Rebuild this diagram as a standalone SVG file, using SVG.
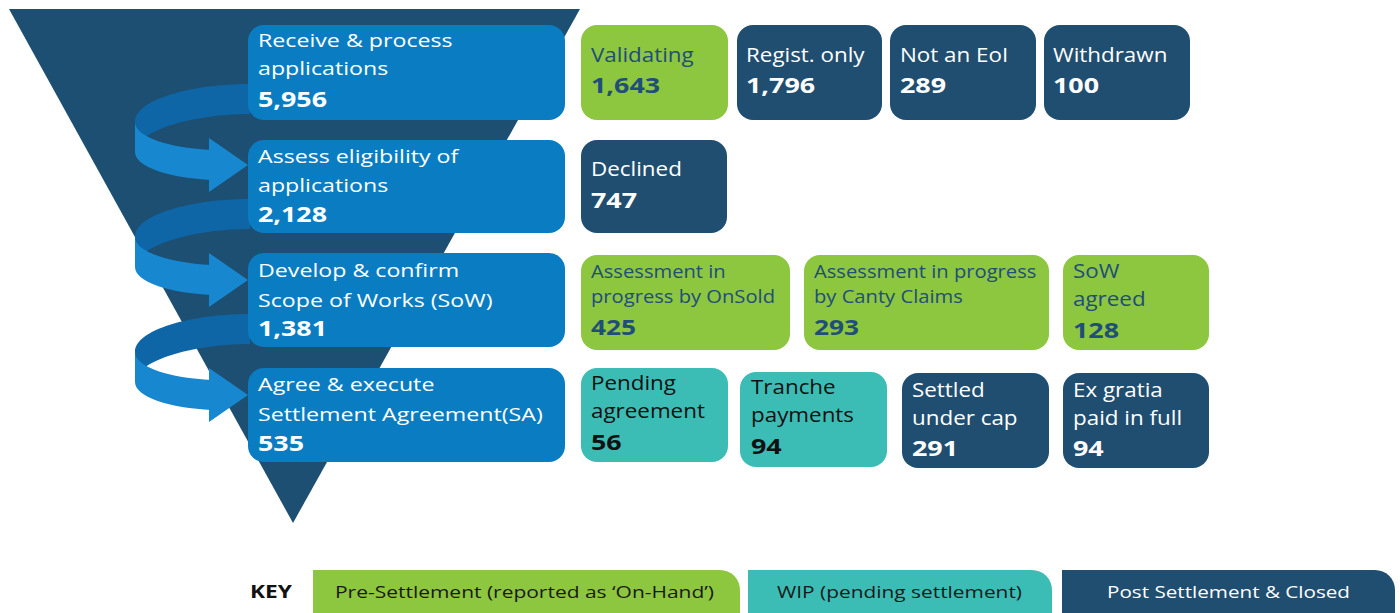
<svg xmlns="http://www.w3.org/2000/svg" xmlns:xlink="http://www.w3.org/1999/xlink" width="1400" height="613" viewBox="0 0 1400 613">
  <style>
    .stage { fill: #0a7dc2; }
    .pre { fill: #8dc63f; }
    .wip { fill: #3bbdb6; }
    .post { fill: #1f4e70; }
    text { font-family: "Open Sans", "Noto Sans", sans-serif; }
    .lbl { font-size: 19px; fill: #ffffff; }
    .num { font-size: 22px; font-weight: 700; fill: #ffffff; }
    .slbl { font-size: 20px; }
    .slbl.sm { font-size: 18px; }
    .snum { font-size: 21.5px; font-weight: 700; }
    .snum.sm { font-size: 21px; }
    .onpre { fill: #1f4e79; }
    .onwip { fill: #111111; }
    .onpost { fill: #ffffff; }
    .key { font-size: 17px; }
    .back { fill: #0f66a6; }
    .front { fill: #1787cf; }
  </style>
  <defs>
    <!-- looping ribbon arrow that carries one stage into the next -->
    <g id="loop">
      <path class="back" d="M250,84 C190,84 135,100 135,122 L135,152 C135,132 190,114 250,114 Z"/>
      <path class="front" d="M135,122 C135,137 170,148 212,150 L212,180 C170,178 135,167 135,152 Z"/>
      <path class="front" d="M209,138 L248,165 L209,192 Z"/>
    </g>
  </defs>

  <rect width="1400" height="613" fill="#ffffff"/>

  <!-- funnel -->
  <polygon id="funnel" points="9,9 580,9 293,523" fill="#1d4f72"/>

  <!-- connectors -->
  <g id="connectors">
    <use xlink:href="#loop"/>
    <use xlink:href="#loop" y="115"/>
    <use xlink:href="#loop" y="230"/>
  </g>

  <!-- process stages -->
  <g id="stage-receive">
    <rect class="stage" x="248" y="25" width="317" height="95" rx="16"/>
    <text class="lbl" transform="translate(258,0) scale(1.22,1)"><tspan x="0" y="47">Receive &amp; process</tspan><tspan x="0" y="75">applications</tspan></text>
    <text class="num" transform="translate(258,0) scale(1.22,1)" x="0" y="107">5,956</text>
  </g>
  <g id="stage-assess">
    <rect class="stage" x="248" y="140" width="317" height="93" rx="16"/>
    <text class="lbl" transform="translate(258,0) scale(1.22,1)"><tspan x="0" y="163">Assess eligibility of</tspan><tspan x="0" y="192">applications</tspan></text>
    <text class="num" transform="translate(258,0) scale(1.22,1)" x="0" y="222">2,128</text>
  </g>
  <g id="stage-sow">
    <rect class="stage" x="248" y="253" width="317" height="94" rx="16"/>
    <text class="lbl" transform="translate(258,0) scale(1.22,1)"><tspan x="0" y="277">Develop &amp; confirm</tspan><tspan x="0" y="307">Scope of Works (SoW)</tspan></text>
    <text class="num" transform="translate(258,0) scale(1.22,1)" x="0" y="336">1,381</text>
  </g>
  <g id="stage-sa">
    <rect class="stage" x="248" y="368" width="317" height="94" rx="16"/>
    <text class="lbl" transform="translate(258,0) scale(1.22,1)"><tspan x="0" y="391">Agree &amp; execute</tspan><tspan x="0" y="421">Settlement Agreement(SA)</tspan></text>
    <text class="num" transform="translate(258,0) scale(1.22,1)" x="0" y="451">535</text>
  </g>

  <!-- row 1 outcomes -->
  <g id="validating">
    <rect class="pre" x="581" y="25" width="147" height="95" rx="16"/>
    <text class="slbl onpre" transform="translate(591,0) scale(1.12,1)" x="0" y="62">Validating</text>
    <text class="snum onpre" transform="translate(591,0) scale(1.25,1)" x="0" y="93">1,643</text>
  </g>
  <g id="regist-only">
    <rect class="post" x="737" y="25" width="145" height="95" rx="16"/>
    <text class="slbl onpost" transform="translate(746,0) scale(1.12,1)" x="0" y="62">Regist. only</text>
    <text class="snum onpost" transform="translate(746,0) scale(1.25,1)" x="0" y="93">1,796</text>
  </g>
  <g id="not-eoi">
    <rect class="post" x="890" y="25" width="146" height="95" rx="16"/>
    <text class="slbl onpost" transform="translate(900,0) scale(1.12,1)" x="0" y="62">Not an EoI</text>
    <text class="snum onpost" transform="translate(900,0) scale(1.25,1)" x="0" y="93">289</text>
  </g>
  <g id="withdrawn">
    <rect class="post" x="1044" y="25" width="146" height="95" rx="16"/>
    <text class="slbl onpost" transform="translate(1053,0) scale(1.12,1)" x="0" y="62">Withdrawn</text>
    <text class="snum onpost" transform="translate(1053,0) scale(1.25,1)" x="0" y="93">100</text>
  </g>

  <!-- row 2 outcomes -->
  <g id="declined">
    <rect class="post" x="581" y="140" width="146" height="93" rx="16"/>
    <text class="slbl onpost" transform="translate(591,0) scale(1.12,1)" x="0" y="176">Declined</text>
    <text class="snum onpost" transform="translate(591,0) scale(1.25,1)" x="0" y="208">747</text>
  </g>

  <!-- row 3 outcomes -->
  <g id="onsold">
    <rect class="pre" x="581" y="255" width="209" height="95" rx="16"/>
    <text class="slbl sm onpre" transform="translate(591,0) scale(1.12,1)"><tspan x="0" y="278">Assessment in</tspan><tspan x="0" y="303">progress by OnSold</tspan></text>
    <text class="snum sm onpre" transform="translate(591,0) scale(1.25,1)" x="0" y="335">425</text>
  </g>
  <g id="canty">
    <rect class="pre" x="804" y="255" width="245" height="95" rx="16"/>
    <text class="slbl sm onpre" transform="translate(814,0) scale(1.12,1)"><tspan x="0" y="278">Assessment in progress</tspan><tspan x="0" y="303">by Canty Claims</tspan></text>
    <text class="snum sm onpre" transform="translate(814,0) scale(1.25,1)" x="0" y="335">293</text>
  </g>
  <g id="sow-agreed">
    <rect class="pre" x="1063" y="255" width="146" height="95" rx="16"/>
    <text class="slbl onpre" transform="translate(1073,0) scale(1.12,1)"><tspan x="0" y="278">SoW</tspan><tspan x="0" y="306">agreed</tspan></text>
    <text class="snum onpre" transform="translate(1073,0) scale(1.25,1)" x="0" y="338">128</text>
  </g>

  <!-- row 4 outcomes -->
  <g id="pending">
    <rect class="wip" x="581" y="368" width="147" height="94" rx="16"/>
    <text class="slbl onwip" transform="translate(591,0) scale(1.12,1)"><tspan x="0" y="390">Pending</tspan><tspan x="0" y="418">agreement</tspan></text>
    <text class="snum onwip" transform="translate(591,0) scale(1.25,1)" x="0" y="450">56</text>
  </g>
  <g id="tranche">
    <rect class="wip" x="740" y="372" width="147" height="95" rx="16"/>
    <text class="slbl onwip" transform="translate(751,0) scale(1.12,1)"><tspan x="0" y="394">Tranche</tspan><tspan x="0" y="422">payments</tspan></text>
    <text class="snum onwip" transform="translate(751,0) scale(1.25,1)" x="0" y="454">94</text>
  </g>
  <g id="settled">
    <rect class="post" x="902" y="373" width="147" height="95" rx="16"/>
    <text class="slbl onpost" transform="translate(912,0) scale(1.12,1)"><tspan x="0" y="397">Settled</tspan><tspan x="0" y="425">under cap</tspan></text>
    <text class="snum onpost" transform="translate(912,0) scale(1.25,1)" x="0" y="456">291</text>
  </g>
  <g id="ex-gratia">
    <rect class="post" x="1063" y="373" width="146" height="95" rx="16"/>
    <text class="slbl onpost" transform="translate(1073,0) scale(1.12,1)"><tspan x="0" y="397">Ex gratia</tspan><tspan x="0" y="425">paid in full</tspan></text>
    <text class="snum onpost" transform="translate(1073,0) scale(1.25,1)" x="0" y="456">94</text>
  </g>

  <!-- key -->
  <g id="key">
    <text x="250" y="598" font-size="18" font-weight="700" fill="#111111" textLength="42" lengthAdjust="spacingAndGlyphs">KEY</text>
    <path class="pre" d="M313,570 H720 A20,20 0 0 1 740,590 V613 H313 Z"/>
    <text class="key" x="335" y="598" fill="#1a1a1a" textLength="379" lengthAdjust="spacingAndGlyphs">Pre-Settlement (reported as ‘On-Hand’)</text>
    <path class="wip" d="M748,570 H1032 A20,20 0 0 1 1052,590 V613 H748 Z"/>
    <text class="key" x="777" y="598" fill="#1a1a1a" textLength="245" lengthAdjust="spacingAndGlyphs">WIP (pending settlement)</text>
    <path class="post" d="M1062,570 H1375 A20,20 0 0 1 1395,590 V613 H1062 Z"/>
    <text class="key" x="1107" y="598" fill="#ffffff" textLength="243" lengthAdjust="spacingAndGlyphs">Post Settlement &amp; Closed</text>
  </g>
</svg>
